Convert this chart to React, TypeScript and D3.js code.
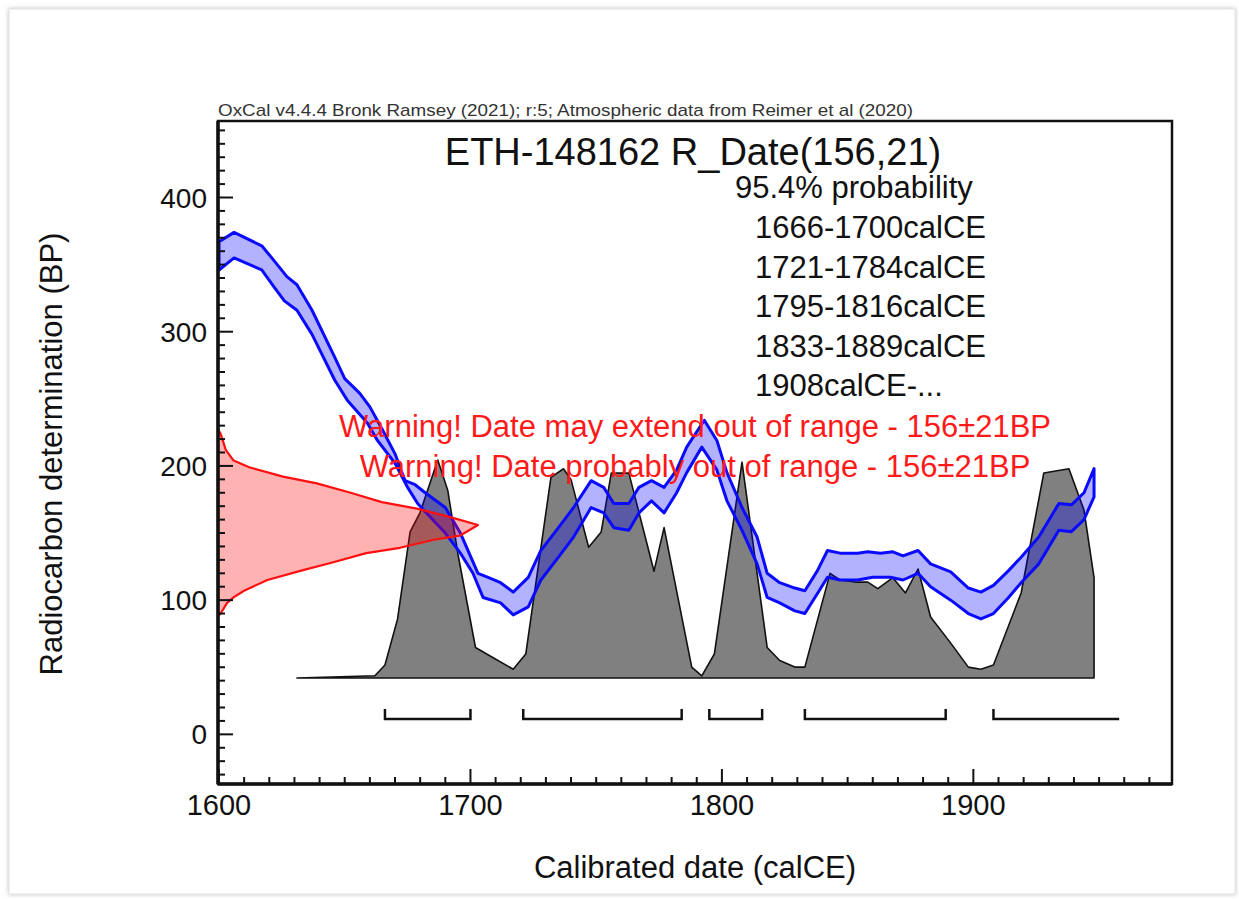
import React from "react";
import * as d3 from "d3";

// ---------- text content ----------
const headerText =
  "OxCal v4.4.4 Bronk Ramsey (2021); r:5; Atmospheric data from Reimer et al (2020)";
const titleText = "ETH-148162 R_Date(156,21)";
const probText = "95.4% probability";
const rangeLabels = [
  "1666-1700calCE",
  "1721-1784calCE",
  "1795-1816calCE",
  "1833-1889calCE",
  "1908calCE-...",
];
const warningLabels = [
  "Warning! Date may extend out of range - 156\u00b121BP",
  "Warning! Date probably out of range - 156\u00b121BP",
];
const xAxisTitle = "Calibrated date (calCE)";
const yAxisTitle = "Radiocarbon determination (BP)";

// ---------- axes ----------
const xTickLabels = [1600, 1700, 1800, 1900];
const yTickLabels = [0, 100, 200, 300, 400];

// ---------- 95.4% ranges ----------
const rangeStart = [1666, 1721, 1795, 1833, 1908];
const rangeEnd = [1700, 1784, 1816, 1889, 1958];
const rangeOpen = [false, false, false, false, true];

// ---------- calibration curve (upper / lower 1-sigma edge) ----------
const upperYears = [
  1600, 1606, 1617, 1621, 1627, 1631, 1637, 1646, 1650, 1656,
  1660, 1665, 1670, 1674, 1678, 1682, 1690, 1696, 1703, 1707,
  1712, 1717, 1723, 1728, 1735, 1741, 1748, 1753, 1757, 1763,
  1767, 1772, 1777, 1782, 1786, 1793, 1798, 1802, 1808, 1814,
  1818, 1823, 1829, 1833, 1838, 1842, 1847, 1854, 1858, 1863,
  1868, 1872, 1878, 1883, 1891, 1898, 1903, 1908, 1914, 1919,
  1926, 1934, 1939, 1944, 1948,
];
const upperBP = [
  367, 374, 364, 355, 341, 335, 316, 281, 265, 254,
  244, 227, 209, 189, 186, 180, 169, 150, 120, 117,
  113, 106, 117, 137, 154, 169, 189, 184, 172, 172,
  184, 189, 184, 197, 214, 234, 219, 195, 169, 147,
  120, 113, 109, 107, 122, 137, 135, 135, 136, 135,
  136, 133, 137, 127, 121, 109, 106, 111, 122, 132,
  147, 172, 171, 180, 198,
];
const lowerYears = [
  1600, 1606, 1617, 1622, 1626, 1631, 1637, 1646, 1651, 1659, 1663,
  1670, 1675, 1679, 1684, 1690, 1696, 1701, 1705, 1712, 1717,
  1723, 1728, 1735, 1741, 1748, 1753, 1757, 1763, 1767, 1772,
  1777, 1782, 1786, 1792, 1798, 1802, 1808, 1814, 1818, 1823,
  1829, 1833, 1838, 1842, 1847, 1854, 1860, 1867, 1872, 1878,
  1883, 1891, 1898, 1903, 1908, 1914, 1919, 1926, 1934, 1939,
  1944, 1948,
];
const lowerBP = [
  346, 355, 346, 333, 323, 316, 298, 264, 249, 232, 219,
  202, 184, 172, 162, 150, 135, 120, 102, 98, 89,
  95, 115, 132, 147, 169, 165, 154, 152, 165, 174,
  165, 180, 195, 214, 197, 174, 152, 127, 102, 98,
  92, 90, 105, 117, 115, 115, 117, 117, 115, 120,
  110, 100, 90, 86, 90, 102, 113, 127, 152, 151,
  160, 177,
];

// ---------- calibrated (posterior) probability ----------
const postYears = [
  1631, 1662, 1666, 1671, 1676, 1680, 1687, 1691, 1695, 1702,
  1708, 1717, 1722, 1732, 1737, 1740, 1747, 1752, 1756, 1763,
  1773, 1777, 1788, 1792, 1797, 1808, 1818, 1823, 1829, 1833,
  1843, 1847, 1853, 1858, 1862, 1868, 1873, 1878, 1883, 1891,
  1898, 1903, 1908, 1919, 1928, 1938, 1944, 1948, 1948,
];
const postProb = [
  0, 0.01, 0.06, 0.27, 0.67, 0.76, 1.0, 0.86, 0.57, 0.14,
  0.1, 0.04, 0.11, 0.92, 0.96, 0.91, 0.6, 0.67, 0.94, 0.94,
  0.49, 0.69, 0.05, 0.01, 0.11, 0.99, 0.14, 0.08, 0.05, 0.05,
  0.48, 0.45, 0.44, 0.44, 0.41, 0.46, 0.39, 0.5, 0.28, 0.16,
  0.05, 0.04, 0.06, 0.39, 0.94, 0.96, 0.77, 0.46, 0,
];

// ---------- radiocarbon measurement distribution ----------
const rdateBP = [
  227, 224, 212, 204, 199, 192, 187, 180, 173, 168, 162, 156,
  148, 145, 139, 135, 128, 122, 115, 107, 102, 98, 90, 88,
];
const rdateDensity = [
  0, 0.01, 0.03, 0.06, 0.12, 0.25, 0.38, 0.51, 0.63, 0.77, 0.89, 1.0,
  0.93, 0.83, 0.7, 0.57, 0.44, 0.32, 0.19, 0.1, 0.06, 0.035, 0.01, 0,
];

const FONT = "'Liberation Sans', Arial, Helvetica, sans-serif";

export default function App() {
  const W = 1239;
  const H = 899;
  const left = 218;
  const right = 1172;
  const top = 121;
  const bottom = 784;

  const x = d3.scaleLinear().domain([1600, 1979]).range([219, right]);
  const y = d3.scaleLinear().domain([-37, 457]).range([bottom, top]);
  const yProb = d3.scaleLinear().domain([0, 1]).range([678, 460]);
  const xDens = d3.scaleLinear().domain([0, 1]).range([left, 478]);

  const line = d3.line<[number, number]>();

  const upperPts: [number, number][] = upperYears.map((yr, i) => [x(yr), y(upperBP[i])]);
  const lowerPts: [number, number][] = lowerYears.map((yr, i) => [x(yr), y(lowerBP[i])]);
  const bandPath = line([...upperPts, ...lowerPts.slice().reverse()]) + "Z";

  const postPts: [number, number][] = postYears.map((yr, i) => [x(yr), yProb(postProb[i])]);
  const postPath = line(postPts) + "Z";

  const rdPts: [number, number][] = rdateBP.map((bp, i) => [xDens(rdateDensity[i]), y(bp)]);
  const rdPath = line(rdPts) + "Z";

  const yTicks = d3.range(-30, 451, 10);
  const xTicks = d3.range(1600, 1971, 10);

  const barY = 719;
  const barTick = 10;

  return (
    <svg
      width={W}
      height={H}
      viewBox={`0 0 ${W} ${H}`}
      style={{ position: "absolute", left: 0, top: 0, display: "block", background: "#fff" }}
      fontFamily={FONT}
    >
      <defs>
        <filter id="shadow" x="-5%" y="-5%" width="110%" height="110%">
          <feDropShadow dx="0" dy="0" stdDeviation="2" floodColor="#999" floodOpacity="0.6" />
        </filter>
        <clipPath id="plotClip">
          <rect x={left} y={top} width={right - left} height={bottom - top} />
        </clipPath>
      </defs>

      {/* card */}
      <rect x={9} y={9} width={1226} height={885} fill="#fff" stroke="#e4e4e4" strokeWidth={1} filter="url(#shadow)" />

      {/* header */}
      <text x={left} y={116} fontSize={17} fill="#333" textLength={695} lengthAdjust="spacingAndGlyphs">
        {headerText}
      </text>

      <g clipPath="url(#plotClip)">
        {/* posterior */}
        <path d={postPath} fill="#808080" stroke="#111" strokeWidth={1.6} strokeLinejoin="round" />
        {/* calibration band */}
        <path d={bandPath} fill="rgba(0,0,255,0.3)" stroke="#0a0aff" strokeWidth={3} strokeLinejoin="round" />
        {/* radiocarbon date */}
        <path d={rdPath} fill="rgba(255,0,0,0.3)" stroke="#ff1010" strokeWidth={2.2} strokeLinejoin="round" />
      </g>

      {/* ranges */}
      {rangeStart.map((s, i) => {
        const x0 = x(s);
        const x1 = x(rangeEnd[i]);
        const d = rangeOpen[i]
          ? `M${x0},${barY - barTick}V${barY}H${x1}`
          : `M${x0},${barY - barTick}V${barY}H${x1}V${barY - barTick}`;
        return <path key={i} d={d} fill="none" stroke="#111" strokeWidth={2.5} />;
      })}

      {/* frame */}
      <rect x={left} y={top} width={right - left} height={bottom - top} fill="none" stroke="#111" strokeWidth={2.5} />
      <line x1={left} x2={left} y1={top} y2={bottom} stroke="#111" strokeWidth={3.5} />
      <line x1={left} x2={right} y1={bottom} y2={bottom} stroke="#111" strokeWidth={3.5} />

      {/* y ticks */}
      {yTicks.map((t) => (
        <line
          key={"yt" + t}
          x1={left}
          x2={left + (t % 100 === 0 ? 15 : 7)}
          y1={y(t)}
          y2={y(t)}
          stroke="#111"
          strokeWidth={2}
        />
      ))}
      {/* x ticks */}
      {xTicks.map((t) => (
        <line
          key={"xt" + t}
          x1={x(t)}
          x2={x(t)}
          y1={bottom}
          y2={bottom - (t % 100 === 0 ? 15 : 7)}
          stroke="#111"
          strokeWidth={2}
        />
      ))}

      {/* tick labels */}
      {yTickLabels.map((t) => (
        <text key={"yl" + t} x={207} y={y(t) + 10} fontSize={28} textAnchor="end" fill="#111">
          {t}
        </text>
      ))}
      {xTickLabels.map((t) => (
        <text key={"xl" + t} x={x(t)} y={815} fontSize={29} textAnchor="middle" fill="#111">
          {t}
        </text>
      ))}

      {/* axis titles */}
      <text x={695} y={878} fontSize={31} textAnchor="middle" fill="#111">
        {xAxisTitle}
      </text>
      <text transform="translate(62,454) rotate(-90)" fontSize={31} textAnchor="middle" fill="#111">
        {yAxisTitle}
      </text>

      {/* title & ranges text */}
      <text x={693} y={165} fontSize={38} textAnchor="middle" fill="#111">
        {titleText}
      </text>
      <text x={735} y={198} fontSize={31} fill="#111">
        {probText}
      </text>
      {rangeLabels.map((r, i) => (
        <text key={r} x={755} y={238 + i * 39.6} fontSize={31} fill="#111">
          {r}
        </text>
      ))}

      {/* warnings */}
      {warningLabels.map((w, i) => (
        <text key={w} x={695} y={437 + i * 40} fontSize={31} textAnchor="middle" fill="#ff1a1a">
          {w}
        </text>
      ))}
    </svg>
  );
}
